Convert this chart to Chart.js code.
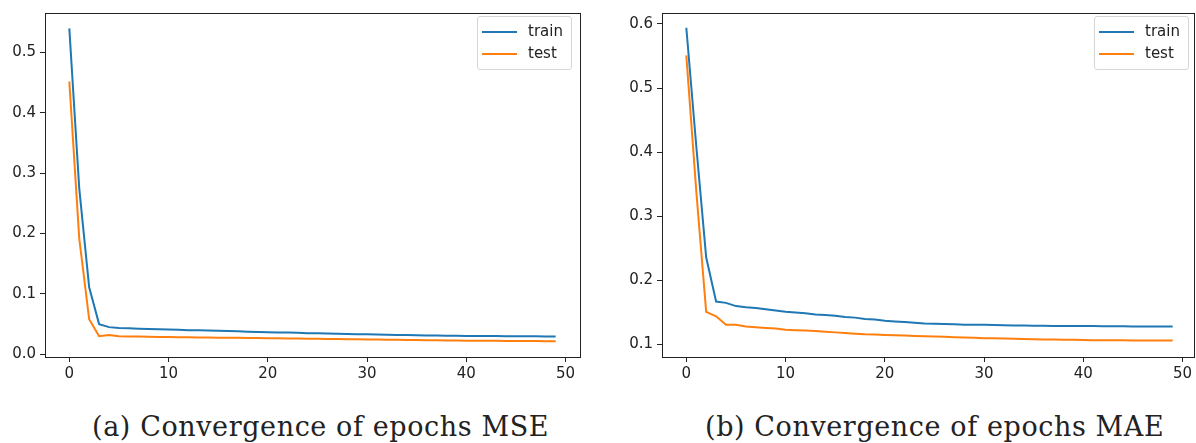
<!DOCTYPE html>
<html>
<head>
<meta charset="utf-8">
<script src="https://cdn.jsdelivr.net/npm/chart.js@4"></script>
<style>
  body { margin: 0; background: #fff; }
  #wrap { position: relative; width: 1196px; height: 443px; overflow: hidden; }
  .plot { position: absolute; top: 0; }
  .legend { position: absolute; top: 16px; width: 93px; height: 52px; border: 1px solid #d6d6d6;
            border-radius: 3px; background: rgba(255,255,255,0.8); font: 15px "DejaVu Sans", sans-serif; color: #222; }
  .legend .row { position: absolute; left: 4px; height: 18px; }
  .legend .swatch { position: absolute; left: 0; top: 8px; width: 35px; height: 2px; }
  .legend .txt { position: absolute; left: 46px; top: -1px; white-space: nowrap; }
  .caption { position: absolute; top: 411px; font: 27px "DejaVu Serif", serif; letter-spacing: 0.6px; color: #222; white-space: nowrap; }
</style>
</head>
<body>
<div id="wrap">
  <canvas id="mseChart" class="plot" style="left:0"></canvas>
  <canvas id="maeChart" class="plot" style="left:600px"></canvas>
  <div id="mseLegend" class="legend" style="left:477px"></div>
  <div id="maeLegend" class="legend" style="left:1094px"></div>
  <div class="caption" style="left:92px">(a) Convergence of epochs MSE</div>
  <div class="caption" style="left:705px">(b) Convergence of epochs MAE</div>
</div>
<script>
var seriesNames = ['train', 'test'];
var seriesColors = ['#1f77b4', '#ff7f0e'];
var epochs = Array.from({ length: 50 }, function (_, i) { return i; });

var mseTrain = [0.540, 0.275, 0.111, 0.050, 0.045, 0.0435, 0.043, 0.0425, 0.042, 0.0415,
                0.041, 0.0405, 0.040, 0.0398, 0.0395, 0.039, 0.0385, 0.038, 0.0375, 0.037,
                0.0366, 0.0363, 0.036, 0.0355, 0.035, 0.0347, 0.0344, 0.034, 0.0337, 0.0334,
                0.033, 0.0327, 0.0324, 0.0321, 0.0318, 0.0315, 0.0313, 0.0311, 0.0309, 0.0307,
                0.0305, 0.0304, 0.0302, 0.0301, 0.0300, 0.0299, 0.0298, 0.0297, 0.0296, 0.0295];
var mseTest = [0.452, 0.192, 0.058, 0.030, 0.032, 0.030, 0.0296, 0.0293, 0.029, 0.0288,
               0.0286, 0.0284, 0.0282, 0.028, 0.0278, 0.0276, 0.0274, 0.0272, 0.027, 0.0268,
               0.0266, 0.0264, 0.0262, 0.026, 0.0258, 0.0256, 0.0254, 0.0252, 0.025, 0.0248,
               0.0246, 0.0244, 0.0242, 0.024, 0.0238, 0.0236, 0.0234, 0.0232, 0.023, 0.0228,
               0.0226, 0.0225, 0.0224, 0.0223, 0.0222, 0.0221, 0.022, 0.0219, 0.0218, 0.0218];
var maeTrain = [0.594, 0.410, 0.236, 0.167, 0.165, 0.160, 0.158, 0.157, 0.155, 0.153,
                0.151, 0.150, 0.149, 0.147, 0.146, 0.145, 0.143, 0.142, 0.140, 0.139,
                0.137, 0.136, 0.135, 0.134, 0.133, 0.1325, 0.132, 0.1315, 0.131, 0.131,
                0.131, 0.1305, 0.130, 0.1298, 0.1296, 0.1294, 0.1292, 0.129, 0.129, 0.129,
                0.129, 0.1288, 0.1286, 0.1285, 0.1284, 0.1283, 0.1282, 0.1281, 0.128, 0.128];
var maeTest = [0.551, 0.340, 0.151, 0.144, 0.131, 0.131, 0.128, 0.127, 0.126, 0.125,
               0.123, 0.1225, 0.122, 0.121, 0.120, 0.119, 0.118, 0.117, 0.116, 0.1155,
               0.115, 0.1145, 0.114, 0.1135, 0.113, 0.1125, 0.112, 0.1115, 0.111, 0.1105,
               0.110, 0.1097, 0.1094, 0.109, 0.1087, 0.1084, 0.108, 0.1078, 0.1076, 0.1074,
               0.107, 0.1069, 0.1068, 0.1067, 0.1066, 0.1065, 0.1065, 0.1065, 0.1065, 0.1065];

var xTicks = [0, 10, 20, 30, 40, 50];
var mseYTicks = [0.0, 0.1, 0.2, 0.3, 0.4, 0.5];
var maeYTicks = [0.1, 0.2, 0.3, 0.4, 0.5, 0.6];

var ink = '#222';

// box around the plot area, like matplotlib spines
var frame = {
    id: 'frame',
    afterDraw: function (chart) {
        var a = chart.chartArea, ctx = chart.ctx;
        ctx.save();
        ctx.strokeStyle = ink;
        ctx.lineWidth = 1;
        ctx.strokeRect(Math.round(a.left) + 0.5, Math.round(a.top) + 0.5,
                       Math.round(a.right - a.left), Math.round(a.bottom - a.top));
        ctx.restore();
    }
};

function points(values) {
    return values.map(function (v, i) { return { x: epochs[i], y: v }; });
}

function makeChart(id, w, h, series, yTicks, yRange, xMax, yWidth, padRight) {
    var canvas = document.getElementById(id);
    canvas.style.width = w + 'px';
    canvas.style.height = h + 'px';
    return new Chart(canvas, {
        type: 'line',
        data: {
            datasets: series.map(function (s, i) {
                return {
                    label: seriesNames[i],
                    data: points(s),
                    borderColor: seriesColors[i],
                    backgroundColor: seriesColors[i],
                    borderWidth: 2,
                    pointRadius: 0,
                    tension: 0,
                    fill: false
                };
            })
        },
        options: {
            responsive: false,
            animation: false,
            devicePixelRatio: 1,
            layout: { padding: { top: 5, right: padRight, left: 0, bottom: 0 } },
            plugins: { legend: { display: false }, tooltip: { enabled: false } },
            scales: {
                x: {
                    type: 'linear',
                    min: -2.45,
                    max: xMax,
                    afterBuildTicks: function (scale) {
                        scale.ticks = xTicks.map(function (v) { return { value: v }; });
                    },
                    afterFit: function (scale) { scale.height = h - 357; },
                    border: { display: false },
                    grid: { drawOnChartArea: false, drawTicks: true, tickLength: 5, color: ink },
                    ticks: { color: ink, padding: 3, maxRotation: 0, font: { family: 'DejaVu Sans', size: 15 } }
                },
                y: {
                    type: 'linear',
                    min: yRange[0],
                    max: yRange[1],
                    afterBuildTicks: function (scale) {
                        scale.ticks = yTicks.map(function (v) { return { value: v }; });
                    },
                    afterFit: function (scale) { scale.width = yWidth; },
                    border: { display: false },
                    grid: { drawOnChartArea: false, drawTicks: true, tickLength: 5, color: ink },
                    ticks: {
                        color: ink, padding: 4,
                        font: { family: 'DejaVu Sans', size: 15 },
                        callback: function (v) { return Number(v).toFixed(1); }
                    }
                }
            }
        },
        plugins: [frame]
    });
}

function makeLegend(id, chart) {
    var box = document.getElementById(id);
    chart.data.datasets.forEach(function (ds, i) {
        var row = document.createElement('div');
        row.className = 'row';
        row.style.top = (6 + i * 22) + 'px';
        row.innerHTML = '<div class="swatch" style="background:' + ds.borderColor + '"></div>' +
                        '<div class="txt">' + ds.label + '</div>';
        box.appendChild(row);
    });
}

var mseChart = makeChart('mseChart', 600, 390, [mseTrain, mseTest], mseYTicks, [-0.0045, 0.5655], 51.45, 45, 20);
var maeChart = makeChart('maeChart', 596, 390, [maeTrain, maeTest], maeYTicks, [0.0806, 0.6170], 51.15, 62, 2);
makeLegend('mseLegend', mseChart);
makeLegend('maeLegend', maeChart);
</script>
</body>
</html>
